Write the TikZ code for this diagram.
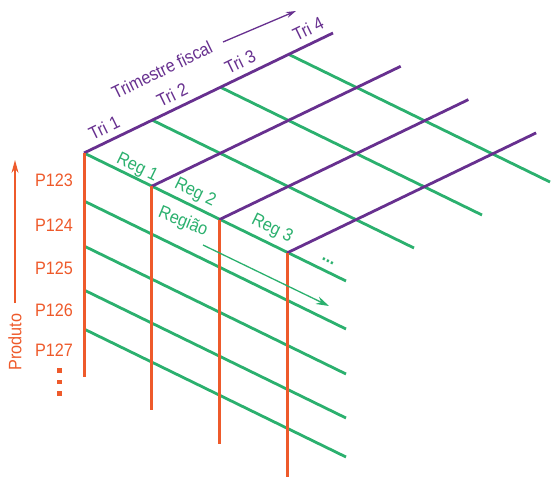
\documentclass[tikz,border=0pt]{standalone}
\usepackage{fontspec}
\setmainfont{Liberation Sans}[FakeStretch=0.9]
\usepackage{tikz}
\usetikzlibrary{arrows.meta,calc}
\definecolor{prodred}{HTML}{EE5A2B}
\definecolor{reggreen}{HTML}{2BB06E}
\definecolor{tripurple}{HTML}{67308F}

\begin{document}
\begin{tikzpicture}[x=1pt,y=-1pt,
  triline/.style={tripurple,line width=2.8pt},
  regline/.style={reggreen,line width=2.8pt},
  prodline/.style={prodred,line width=3pt},
  lbl/.style={font=\fontsize{18}{20}\selectfont,inner sep=0pt}]
  \useasboundingbox (0,0) rectangle (557,492);
  % corner of the cube
  \coordinate (o) at (84,153);
  \foreach \i in {0,...,3} \coordinate (t\i) at ($(o)+\i*(68,-33)$);
  \foreach \j in {0,...,3} \coordinate (r\j) at ($(o)+\j*(67.7,33.3)$);
  % grid
  \foreach \i in {0,...,3} \draw[regline] (t\i) -- ++(262,128);
  \foreach \y [count=\k] in {48,93,137,176} {
    \coordinate (p\k) at ($(o)+(0,\y)$);
    \draw[regline] (p\k) -- ++(262,128);
  }
  \foreach \j in {0,...,3} \draw[triline] (r\j) -- ++(249,-120);
  \foreach \j in {0,...,3} \draw[prodline] (r\j) -- ++(0,224);
  % quarters
  \foreach \i [count=\n] in {0,...,3}
    \node[lbl,tripurple,rotate=26] (tri\n) at ($(t\i)+(20,-25)$) {Tri \n};
  \node[lbl,tripurple,rotate=26] (fiscal) at (162,70) {Trimestre fiscal};
  \coordinate (fa) at (223,42);
  \coordinate (fb) at (296,11);
  \draw[tripurple,line width=1.3pt,-{Stealth[length=10pt,width=6pt]}] (fa) -- (fb);
  % regions
  \node[lbl,reggreen,rotate=-26] (reg1) at (137,168) {Reg 1};
  \node[lbl,reggreen,rotate=-26] (reg2) at (195,193) {Reg 2};
  \node[lbl,reggreen,rotate=-26] (reg3) at (272,229) {Reg 3};
  \node[lbl,reggreen,rotate=-22] (regiao) at (183,222) {Região};
  \node[lbl,reggreen,rotate=-26,font=\fontsize{18}{20}\bfseries] (regmore) at (328,261) {...};
  \coordinate (ra) at (203,245);
  \coordinate (rb) at (329,306);
  \draw[reggreen,line width=1.3pt,-{Stealth[length=13pt,width=8pt]}] (ra) -- (rb);
  % products
  \foreach \y [count=\n from 3] in {180,225,268,310,350}
    \node[lbl,prodred] (prod\n) at (54,\y) {P12\n};
  \foreach \k in {0,1,2} \fill[prodred] (57,368+\k*11.5) rectangle ++(4.5,4.5);
  \coordinate (pa) at (15,303);
  \coordinate (pb) at (15,160);
  \draw[prodred,line width=1.3pt,-{Stealth[length=13pt,width=7pt]}] (pa) -- (pb);
  \node[lbl,prodred,rotate=90] (produto) at (15,342) {Produto};
\end{tikzpicture}
\end{document}
